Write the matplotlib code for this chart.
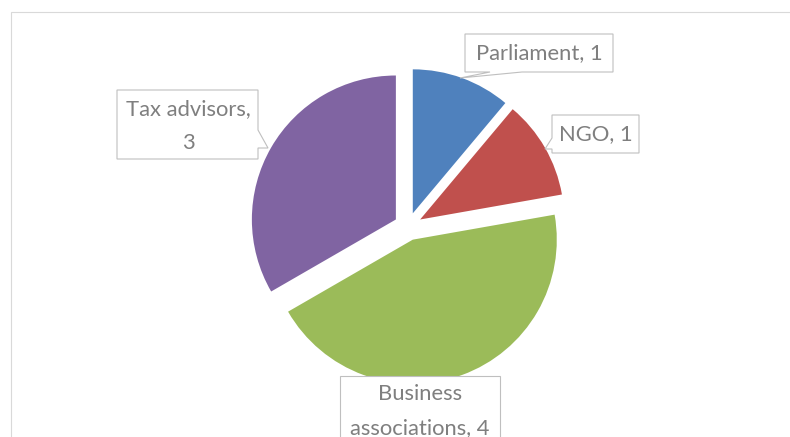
import matplotlib.pyplot as plt
from matplotlib.patches import Polygon, Rectangle

labels = ["Parliament", "NGO", "Business associations", "Tax advisors"]
values = [1, 1, 4, 3]
colors = ["#4F81BD", "#C0504D", "#9BBB59", "#8064A2"]

W, H = 790, 437
fig = plt.figure(figsize=(W / 100, H / 100), dpi=100)
ax = fig.add_axes([0, 0, 1, 1])

# exploded pie, clockwise from 12 o'clock
ax.pie(values, colors=colors, startangle=90, counterclock=False,
       center=(408, H - 226.5), radius=144, explode=[14] * len(values),
       wedgeprops=dict(linewidth=0))
ax.set_xlim(0, W)
ax.set_ylim(0, H)
ax.set_aspect('auto')
ax.axis('off')

# chart area border (cropped on right and bottom)
ax.add_patch(Rectangle((10.5, -10), W, H - 12 + 10, fill=False,
                       edgecolor="#D9D9D9", lw=0.8, zorder=0))


def callout(pts, text, xy):
    # pts in pixel coords (y down)
    poly = Polygon([(x, H - y) for x, y in pts], closed=True,
                   facecolor="white", edgecolor="#BFBFBF", lw=0.8, zorder=3)
    ax.add_patch(poly)
    ax.text(xy[0], H - xy[1], text, ha="center", va="center",
            fontsize=15.8, family="Lato", color="#7F7F7F",
            linespacing=1.85, zorder=4)


callout([(465, 34), (613, 34), (613, 72), (522, 72), (460, 78),
         (490, 72), (465, 72)],
        f"{labels[0]}, {values[0]}", (539, 53))
callout([(552, 115), (639, 115), (639, 153), (552, 153), (552, 149),
         (545, 149), (552, 138)],
        f"{labels[1]}, {values[1]}", (595.5, 134))
callout([(117, 90), (258, 90), (258, 130), (268, 148), (258, 148),
         (258, 159), (117, 159)],
        f"{labels[3]},\n{values[3]}", (188, 126))
callout([(340, 376), (500, 376), (500, 470), (340, 470)],
        "Business\nassociations, " + str(values[2]), (420, 411))

fig.savefig("out.png", dpi=100)
